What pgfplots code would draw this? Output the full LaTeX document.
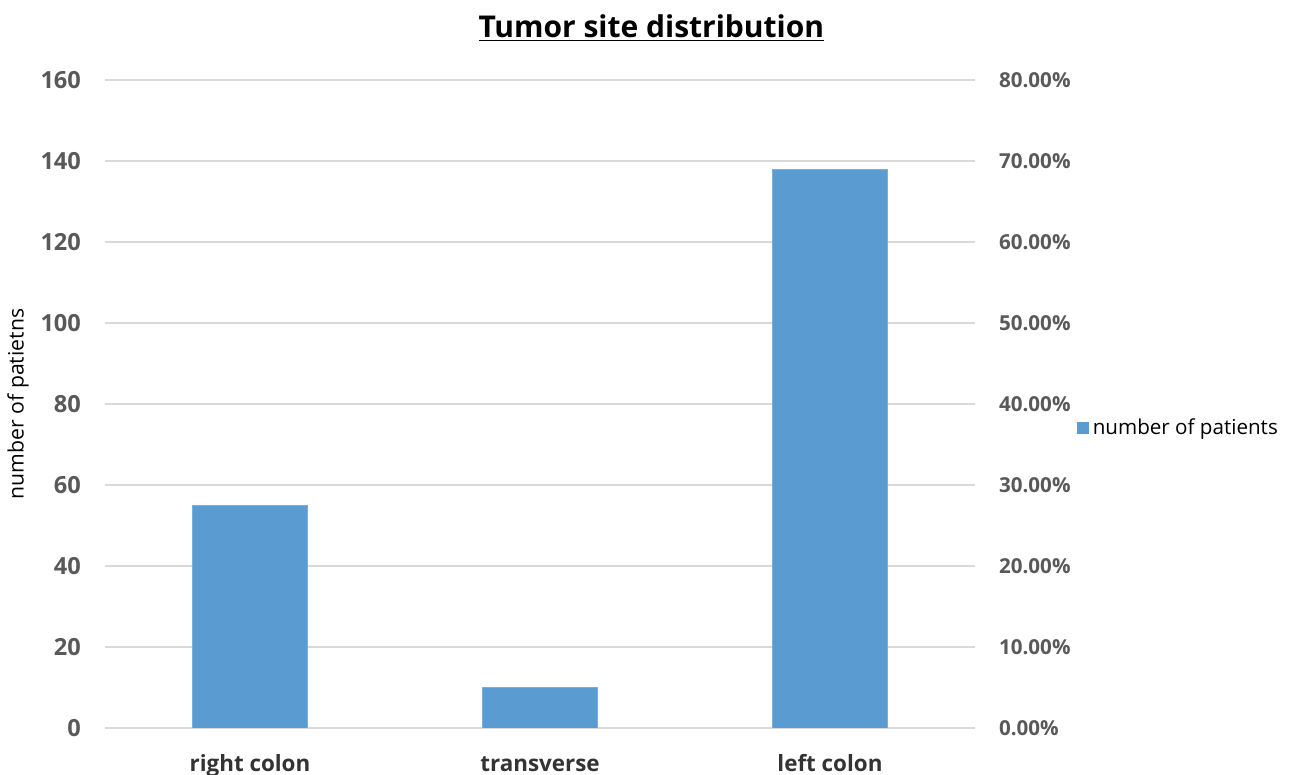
\documentclass[border=0pt]{standalone}
\usepackage{fontspec}
\setmainfont{Open Sans}
\usepackage{pgfplots}
\pgfplotsset{compat=1.18}
\definecolor{barblue}{HTML}{5A9BD2}
\definecolor{gridgray}{HTML}{D9D9D9}
\definecolor{ticktext}{HTML}{595959}
\begin{document}
\begin{tikzpicture}
\begin{axis}[
  at={(0,0)}, anchor=south west,
  scale only axis, width=435pt, height=324pt,
  xmin=-0.5, xmax=2.5, ymin=0, ymax=160,
  xtick=data, xticklabels={right colon, transverse, left colon},
  ytick={0,20,...,160},
  axis y line*=left, axis x line*=bottom,
  y axis line style={draw=none},
  x axis line style={draw=gridgray, line width=0.8pt},
  major tick length=0pt,
  ymajorgrids, grid style={gridgray, line width=0.8pt},
  /pgf/number format/assume math mode=true,
  yticklabel style={font=\fontsize{11.8}{13}\selectfont\bfseries, text=ticktext, xshift=-8.5pt},
  xticklabel style={font=\fontsize{11.2}{13}\selectfont\bfseries, text=black!80, text height=1.6ex, text depth=0.4ex, yshift=-9.5pt},
  ylabel={number of patietns},
  ylabel style={at={(axis description cs:-0.1,0.5)}, anchor=center, font=\fontsize{10.6}{12}\selectfont},
  title={\underline{Tumor site distribution}},
  title style={at={(axis description cs:0.628,1.062)}, anchor=center, font=\fontsize{15}{18}\selectfont\bfseries},
  legend style={at={(axis description cs:1.117,0.463)}, anchor=west, draw=none, fill=none, font=\fontsize{10.3}{12}\selectfont, legend cell align=left, inner sep=0pt},
  legend image code/.code={\fill[barblue] (0cm,-0.095cm) rectangle (0.19cm,0.095cm);},
]
\addplot[ybar, bar width=57.5pt, fill=barblue, draw=barblue!80!white] coordinates {(0,55) (1,10) (2,138)};
\addlegendentry{number of patients}
\end{axis}
\begin{axis}[
  at={(0,0)}, anchor=south west,
  scale only axis, width=435pt, height=324pt,
  xmin=-0.5, xmax=2.5, ymin=0, ymax=80,
  axis x line=none, axis y line*=right,
  y axis line style={draw=none},
  major tick length=0pt,
  ytick={0,10,...,80},
  yticklabels={0.00\%,10.00\%,20.00\%,30.00\%,40.00\%,50.00\%,60.00\%,70.00\%,80.00\%},
  yticklabel style={font=\fontsize{10.3}{12}\selectfont\bfseries, text=ticktext, xshift=8.5pt},
]
\end{axis}
\pgfresetboundingbox
\path (-52.5pt,-23.5pt) rectangle (593.5pt,364pt);
\end{tikzpicture}
\end{document}
